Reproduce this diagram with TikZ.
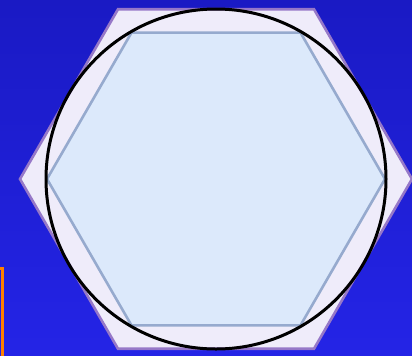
\documentclass[tikz,border=0pt]{standalone}
\usetikzlibrary{calc}

\definecolor{bgtop}{RGB}{26,26,196}
\definecolor{bgbot}{RGB}{36,36,230}
\definecolor{hexout}{RGB}{239,236,250}
\definecolor{hexoutline}{RGB}{150,120,200}
\definecolor{hexin}{RGB}{220,233,251}
\definecolor{hexinline}{RGB}{150,170,206}
\definecolor{tabedge}{RGB}{255,128,0}

\begin{document}
\begin{tikzpicture}[
  x=0.5pt, y=-0.5pt,
  outerhex/.style = {fill=hexout, draw=hexoutline, line width=1.3pt, line join=miter},
  innerhex/.style = {fill=hexin, draw=hexinline, line width=1.3pt},
  rim/.style = {draw=black, line width=1.5pt},
]
  \useasboundingbox (0,0) rectangle (412,355);
  \clip (0,0) rectangle (412,355);
  \shade[top color=bgtop, bottom color=bgbot] (0,0) rectangle (412,355);

  % edge of the box off to the left
  \draw[tabedge, line width=1.5pt] (-20,268) rectangle (2,380);

  \coordinate (o) at (216,179);
  \begin{scope}[shift={(o)}]
    % circumscribed hexagon
    \draw[outerhex] (0:196) \foreach \a in {60,120,...,300} {-- (\a:196)} -- cycle;
    % inscribed hexagon
    \draw[innerhex] (0:169) \foreach \a in {60,120,...,300} {-- (\a:169)} -- cycle;
    % the circle between them
    \draw[rim] (0,0) circle[radius=170];
  \end{scope}
\end{tikzpicture}
\end{document}
